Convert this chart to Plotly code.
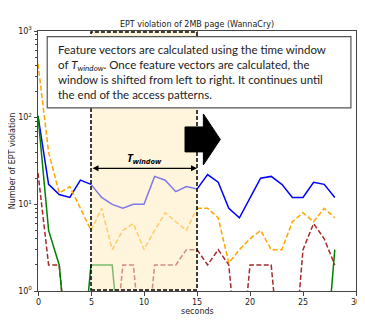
import plotly.graph_objects as go

# time axis (seconds) and the four traces (0 = no violation)
seconds = list(range(29))
blue_vals = [105, 17, 13, 12, 19, 17, 12, 10, 9, 10, 10, 21, 19, 14, 16, 15,
             22, 18, 9, 7, 12, 20, 21, 17, 12, 12, 18, 17, 12]
orange_vals = [420, 40, 13.5, 16, 9, 5, 9, 3, 5, 6, 3, 5, 8, 6.3, 5, 9,
               9, 7, 2.1, 3, 4, 5, 3, 3, 6.3, 8, 6.3, 9, 7]
red_vals = [23, 2, 2, 0, 0, 0, 0, 0, 2, 2, 0, 2, 2, 2, 3, 3,
            2, 3, 2, 0, 2, 2, 2, 0, 0, 3, 6, 4, 2]
green_vals = [105, 5, 2, 0, 0, 2, 2, 2, 0, 0, 0, 0, 0, 0, 0, 0,
              0, 0, 0, 0, 0, 0, 0, 0, 0, 0, 0, 0, 3]

window_start, window_end = 5, 15
y_tickvals = [1, 10, 100, 1000]
y_ticktext = ["10<sup>0</sup>", "10<sup>1</sup>", "10<sup>2</sup>", "10<sup>3</sup>"]
x_tickvals = [0, 5, 10, 15, 20, 25, 30]

note = ("Feature vectors are calculated using the time window<br>"
        "of <i>T<sub>window</sub></i>. Once feature vectors are calculated, the<br>"
        "window is shifted from left to right. It continues until<br>"
        "the end of the access patterns.")

series = [
    (blue_vals, "#0000ff", "solid"),
    (orange_vals, "#ffa500", "5px,2.4px"),
    (red_vals, "#a52a2a", "5px,2.4px"),
    (green_vals, "#008000", "solid"),
]

fig = go.Figure()

# zeros can't sit on a log axis -> push them below the visible range (clipped, like matplotlib)
def clip(v):
    return [y if y > 0 else 0.1 for y in v]

for vals, color, dash in series:
    ys = clip(vals)
    parts = [
        (seconds[:window_start + 1], ys[:window_start + 1], 1.0),
        (seconds[window_start:window_end + 1], ys[window_start:window_end + 1], 0.5),
        (seconds[window_end:], ys[window_end:], 1.0),
    ]
    for xs, yy, op in parts:
        fig.add_trace(go.Scatter(x=xs, y=yy, mode="lines", opacity=op,
                                 line=dict(color=color, width=1.5, dash=dash),
                                 showlegend=False, hoverinfo="skip"))

shapes = [
    # window fill
    dict(type="rect", xref="x", yref="paper", x0=window_start, x1=window_end, y0=0, y1=1,
         fillcolor="#fff4dc", line_width=0, layer="below"),
    # window dashed outline
    dict(type="rect", xref="x", yref="paper", x0=window_start, x1=window_end, y0=0.004, y1=0.996,
         line=dict(color="black", width=1.5, dash="4px,2px"), layer="above"),
    # block arrow
    dict(type="path", xref="x", yref="paper", layer="above",
         path="M 13.87,0.535 L 15.6,0.535 L 15.6,0.485 L 17.2,0.583 L 15.6,0.681 "
              "L 15.6,0.631 L 13.87,0.631 Z",
         fillcolor="black", line=dict(color="black", width=1)),
    # text box
    dict(type="rect", xref="paper", yref="paper", x0=0.029, x1=0.984, y0=0.704, y1=0.978,
         fillcolor="white", line=dict(color="#555555", width=1.2), layer="above"),
]

annotations = [
    # double arrow for T_window
    dict(x=window_end, y=1.415, ax=window_start, ay=1.415, xref="x", yref="y",
         axref="x", ayref="y", text="", showarrow=True, arrowside="end+start",
         arrowhead=2, arrowsize=1, arrowwidth=1.2, arrowcolor="black"),
    dict(x=10, y=1.53, xref="x", yref="y", showarrow=False,
         text="<b><i>T<sub>window</sub></i></b>",
         font=dict(family="Open Sans", size=11, color="black")),
    dict(x=0.056, y=0.962, xref="paper", yref="paper", xanchor="left", yanchor="top",
         showarrow=False, align="left", text=note,
         font=dict(family="Lato", size=11.5, color="#222222")),
    dict(x=-0.081, y=0.5, xref="paper", yref="paper", showarrow=False, textangle=-90,
         xanchor="center", text="Number of EPT violation", font=dict(size=8)),
    dict(x=0.5, y=-0.077, xref="paper", yref="paper", showarrow=False, yanchor="middle",
         text="seconds", font=dict(size=8)),
]

# x tick labels drawn as annotations so the last one (30, right at the edge) is kept
for t in x_tickvals:
    annotations.append(dict(x=t, y=-0.02, xref="x", yref="paper", yanchor="top",
                            showarrow=False, text=str(t), font=dict(size=8)))

# the page puts the figure 8px in from the top-left corner; margins account for that
fig.update_layout(
    width=365, height=323,
    margin=dict(l=30, r=17, t=23, b=40),
    paper_bgcolor="white", plot_bgcolor="white",
    font=dict(family="DejaVu Sans", size=8, color="#222222"),
    title=dict(text="EPT violation of 2MB page (WannaCry)", x=0.5, xref="paper",
               y=0.951, yanchor="middle", font=dict(size=8)),
    shapes=shapes, annotations=annotations, showlegend=False,
)

fig.update_xaxes(range=[0, 30], tickvals=x_tickvals, showticklabels=False,
                 ticks="outside", ticklen=3.5,
                 tickcolor="#444", showgrid=False, zeroline=False, automargin=False,
                 showline=True, linecolor="#444", linewidth=1, mirror=True)
fig.update_yaxes(type="log", range=[0, 3], tickvals=y_tickvals, ticktext=y_ticktext,
                 ticks="outside", ticklen=3.5, tickcolor="#444", showgrid=False,
                 zeroline=False, showline=True, linecolor="#444", linewidth=1, mirror=True,
                 automargin=False, ticklabeloverflow="allow",
                 minor=dict(tickvals=[m * d for d in (1, 10, 100) for m in range(2, 10)],
                            ticks="outside", ticklen=2, tickcolor="#444", showgrid=False))

fig.write_html("out.html")
